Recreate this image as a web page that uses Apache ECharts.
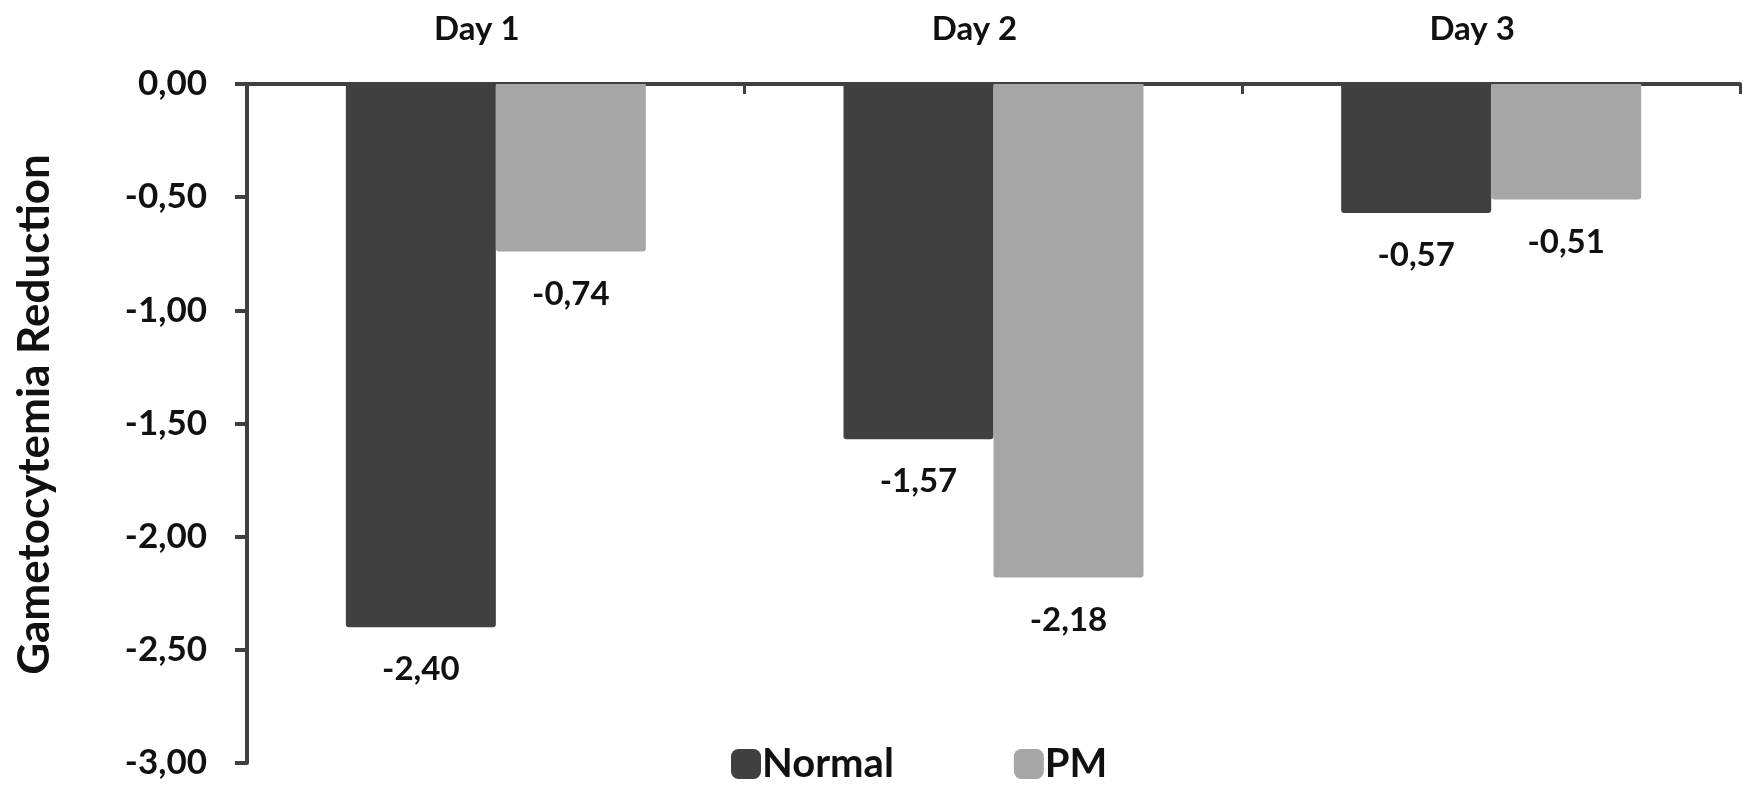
<!DOCTYPE html>
<html>
<head>
<meta charset="utf-8">
<title>Gametocytemia Reduction</title>
<script src="https://cdn.jsdelivr.net/npm/echarts@6/dist/echarts.min.js"></script>
<style>
  html, body { margin: 0; padding: 0; background: #ffffff; }
  #chart { width: 1746px; height: 790px; }
</style>
</head>
<body>
<div id="chart"></div>
<script>
// Mean change in gametocytemia per day, by group
const days = ['Day 1', 'Day 2', 'Day 3'];
const normalValues = [-2.40, -1.57, -0.57];
const pmValues = [-0.74, -2.18, -0.51];
const seriesNames = ['Normal', 'PM'];

const FONT = 'Lato, "Open Sans", sans-serif';
const AXIS_COLOR = '#404040';
const TEXT_COLOR = '#111111';

// Decimal comma, two decimals
function fmt(v) {
  return Number(v).toFixed(2).replace('.', ',');
}

const chart = echarts.init(document.getElementById('chart'));

const labelStyle = {
  show: true,
  position: 'bottom',
  distance: 26,
  formatter: p => fmt(p.value),
  fontFamily: FONT,
  fontWeight: 'bold',
  fontSize: 33,
  color: TEXT_COLOR
};

chart.setOption({
  animation: false,
  backgroundColor: '#ffffff',
  grid: { left: 247, right: 6, top: 84, bottom: 27, containLabel: false },
  legend: {
    data: seriesNames,
    left: 726,
    bottom: 1,
    itemWidth: 30,
    itemHeight: 30,
    itemGap: 120,
    icon: 'roundRect',
    textStyle: { fontFamily: FONT, fontWeight: 'bold', fontSize: 40, color: TEXT_COLOR, padding: [0, 0, 0, -4] }
  },
  xAxis: {
    type: 'category',
    data: days,
    position: 'top',
    axisLine: { lineStyle: { color: AXIS_COLOR, width: 4 } },
    axisTick: { show: true, inside: true, length: 10, alignWithLabel: false, lineStyle: { color: AXIS_COLOR, width: 3 } },
    axisLabel: { margin: 38, padding: [0, 38, 0, 0], fontFamily: FONT, fontWeight: 'bold', fontSize: 33, color: TEXT_COLOR }
  },
  yAxis: {
    type: 'value',
    min: -3,
    max: 0,
    interval: 0.5,
    name: 'Gametocytemia Reduction',
    nameLocation: 'middle',
    nameGap: 190,
    nameRotate: 90,
    nameTextStyle: { fontFamily: FONT, fontWeight: 'bold', fontSize: 44, color: TEXT_COLOR, padding: [0, 0, 0, 18] },
    axisLine: { show: true, lineStyle: { color: AXIS_COLOR, width: 4 } },
    axisTick: { show: true, length: 12, lineStyle: { color: AXIS_COLOR, width: 4 } },
    splitLine: { show: false },
    axisLabel: { margin: 40, formatter: fmt, fontFamily: FONT, fontWeight: 'bold', fontSize: 35, color: TEXT_COLOR }
  },
  series: [
    {
      name: seriesNames[0],
      type: 'bar',
      data: normalValues,
      barWidth: 150,
      barGap: '0%',
      itemStyle: { color: '#404040', borderRadius: [0, 0, 3, 3] },
      label: labelStyle
    },
    {
      name: seriesNames[1],
      type: 'bar',
      data: pmValues,
      barWidth: 150,
      itemStyle: { color: '#a6a6a6', borderRadius: [0, 0, 3, 3] },
      label: labelStyle
    }
  ]
});
</script>
</body>
</html>
